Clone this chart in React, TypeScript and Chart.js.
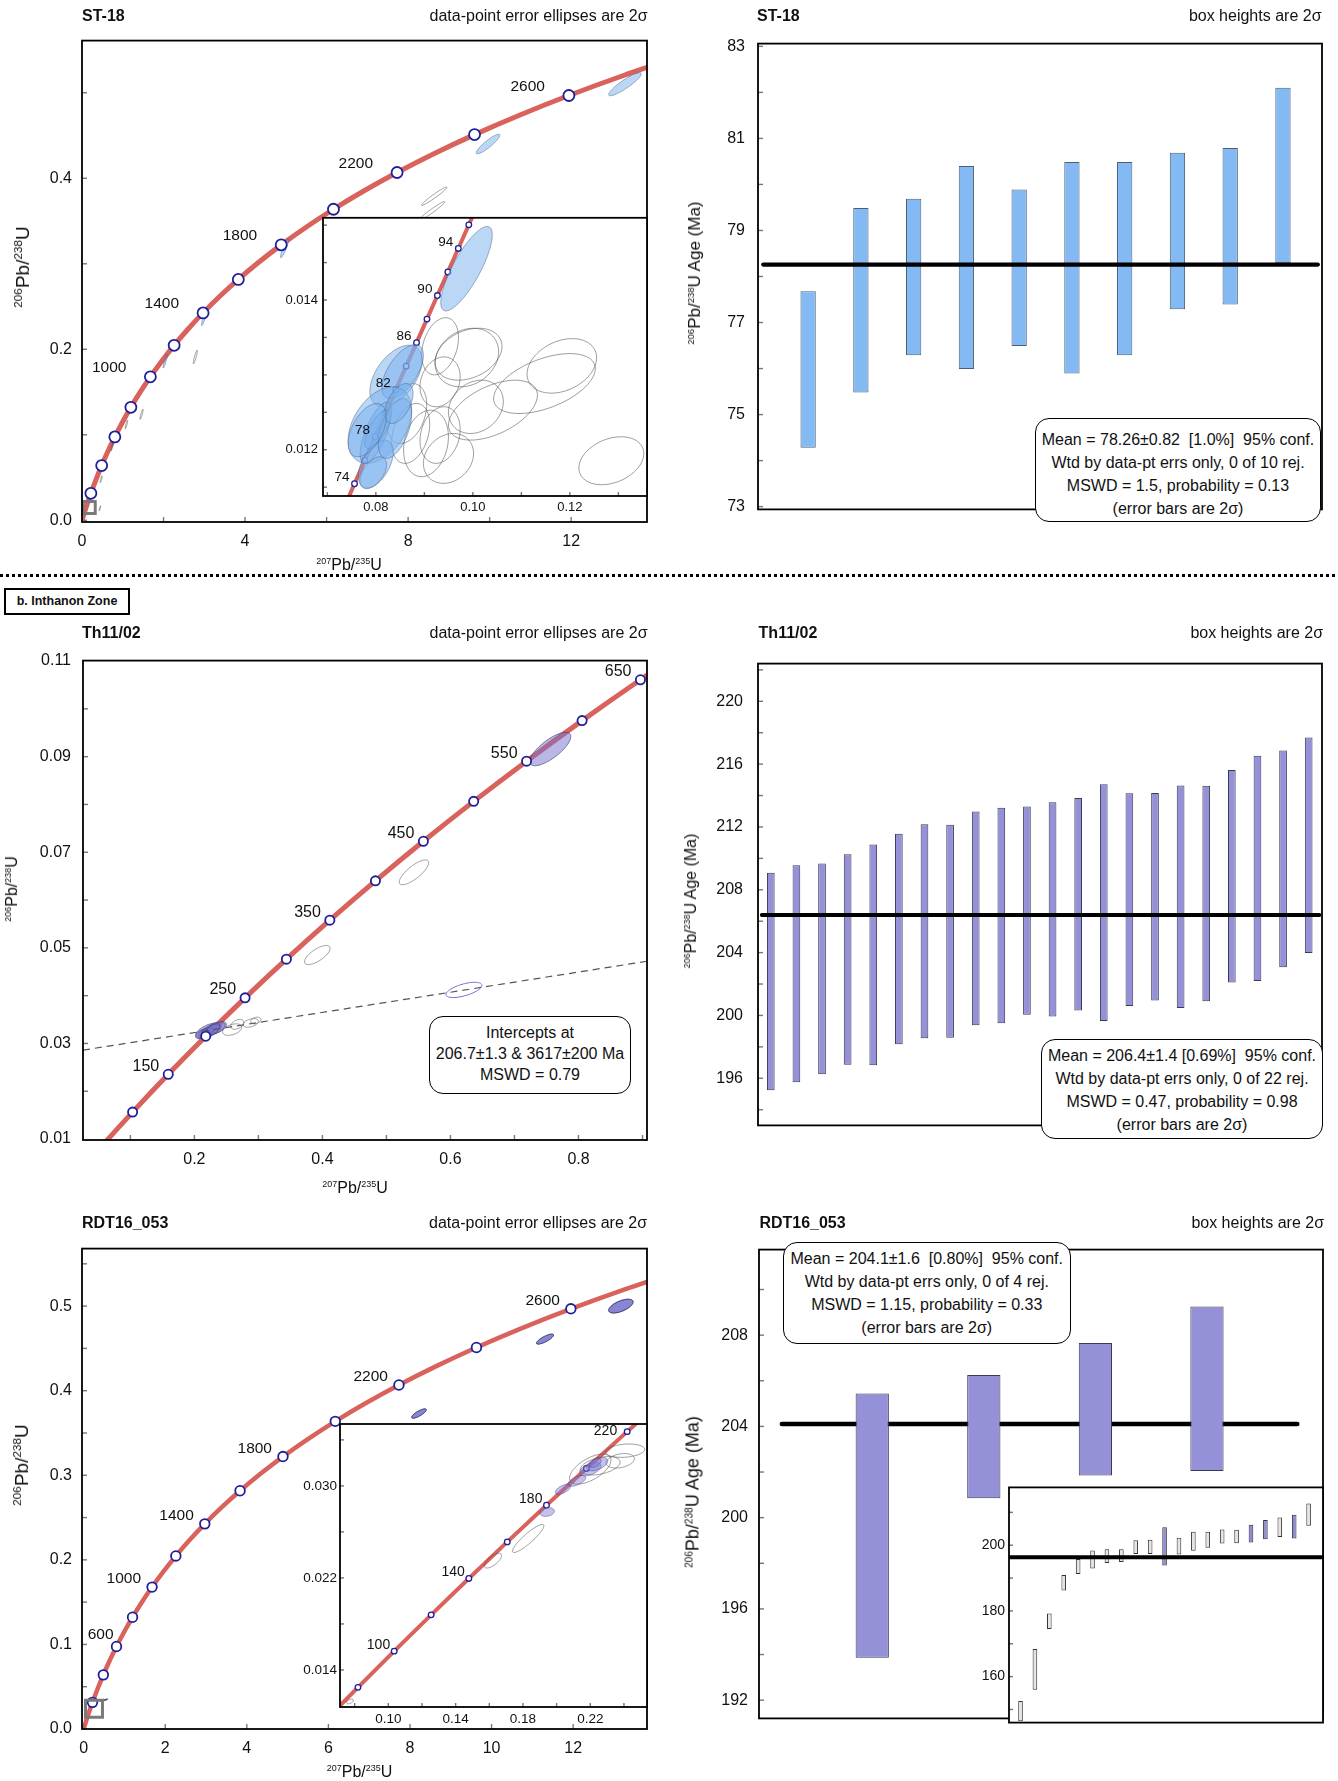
import React, { useEffect, useRef } from 'react';
import { Chart, registerables } from 'chart.js';

Chart.register(...registerables);
const FONT = "'Liberation Sans', Arial, Helvetica, sans-serif";
Chart.defaults.font.family = FONT;
Chart.defaults.color = '#111';

// ================= DATA =================
// Concordia reference points: age (Ma), 207Pb/235U, 206Pb/238U
const wideAges = [0, 100, 200, 300, 400, 500, 600, 700, 800, 900, 1000, 1100, 1200, 1300, 1400, 1500, 1600, 1700, 1800, 1900, 2000, 2100, 2200, 2300, 2400, 2500, 2600, 2700, 2800];
const wide207 = [0, 0.1035, 0.21771, 0.34374, 0.48281, 0.63628, 0.80563, 0.99251, 1.19873, 1.42629, 1.67741, 1.95452, 2.2603, 2.59774, 2.97009, 3.38099, 3.83442, 4.33477, 4.88691, 5.49618, 6.16853, 6.91046, 7.72916, 8.63262, 9.62957, 10.7297, 11.94372, 13.28336, 14.76165];
const wide206 = [0, 0.015633, 0.031511, 0.047637, 0.064016, 0.08065, 0.097544, 0.114702, 0.132129, 0.149828, 0.167804, 0.186061, 0.204603, 0.223435, 0.242562, 0.261987, 0.281716, 0.301754, 0.322105, 0.342774, 0.363766, 0.385086, 0.406741, 0.428732, 0.451069, 0.473754, 0.496794, 0.520194, 0.543959];
const wideMarkerAges = [200, 400, 600, 800, 1000, 1200, 1400, 1600, 1800, 2000, 2200, 2400, 2600, 2800];
const st18LabelAges = [1000, 1400, 1800, 2200, 2600];
const rdtLabelAges = [600, 1000, 1400, 1800, 2200, 2600];

const thAges = [0, 50, 100, 150, 200, 250, 300, 350, 400, 450, 500, 550, 600, 650, 700];
const th207 = [0, 0.050475, 0.1035, 0.159196, 0.21771, 0.279171, 0.34374, 0.411563, 0.48281, 0.557657, 0.63628, 0.71887, 0.80563, 0.896768, 0.99251];
const th206 = [0, 0.0077864, 0.015633, 0.023542, 0.031511, 0.039543, 0.047637, 0.055795, 0.064016, 0.072301, 0.08065, 0.089064, 0.097544, 0.10609, 0.114702];
const thMarkerAges = [100, 150, 200, 250, 300, 350, 400, 450, 500, 550, 600, 650];
const thLabelAges = [150, 250, 350, 450, 550, 650];

const st18InAges = [70, 72, 74, 76, 78, 80, 82, 84, 86, 88, 90, 92, 94, 96, 98];
const st18In207 = [0.0713713, 0.0734837, 0.0756003, 0.0777209, 0.0798459, 0.081975, 0.0841082, 0.0862457, 0.0883873, 0.0905333, 0.0926834, 0.0948377, 0.0969964, 0.0991592, 0.1013263];
const st18In206 = [0.0109179, 0.0112316, 0.0115454, 0.0118593, 0.0121733, 0.012487, 0.0128015, 0.0131158, 0.0134302, 0.0137446, 0.0140593, 0.0143738, 0.0146886, 0.0150035, 0.0153185];
const st18InMarkerAges = [74, 76, 78, 80, 82, 84, 86, 88, 90, 92, 94, 96];
const st18InLabelAges = [74, 78, 82, 86, 90, 94];

const rdtInAges = [60, 80, 100, 120, 140, 160, 180, 200, 220, 240];
const rdtIn207 = [0.0608718, 0.081975, 0.1035, 0.125449, 0.147837, 0.17067, 0.193957, 0.21771, 0.241931, 0.266636];
const rdtIn206 = [0.0093509, 0.012487, 0.015633, 0.018789, 0.021955, 0.025131, 0.028316, 0.031511, 0.034717, 0.037932];
const rdtInMarkerAges = [80, 100, 120, 140, 160, 180, 200, 220];
const rdtInLabelAges = [100, 140, 180, 220];

// Error ellipses: [207/235 centre, 206/238 centre, 2s x, 2s y, error correlation]
const st18MainAcc = [
  [13.32, 0.51, 0.4, 0.0135, 0.9],
  [9.96, 0.44, 0.29, 0.0115, 0.9],
  [4.97, 0.318, 0.1, 0.011, 0.9],
  [2.99, 0.2356, 0.06, 0.008, 0.9],
  [2.04, 0.186, 0.05, 0.008, 0.9],
];
const st18MainRej = [
  [8.64, 0.379, 0.31, 0.0107, 0.97],
  [8.59, 0.362, 0.31, 0.0107, 0.97],
  [2.78, 0.191, 0.05, 0.008, 0.9],
  [1.46, 0.124, 0.04, 0.006, 0.9],
  [1.09, 0.112, 0.03, 0.005, 0.9],
  [0.74, 0.086, 0.03, 0.005, 0.9],
  [0.47, 0.048, 0.025, 0.004, 0.9],
  [0.44, 0.014, 0.02, 0.003, 0.9],
];
const st18InAcc = [
  [0.09869, 0.014418, 0.00531, 0.000564, 0.8],
  [0.08414, 0.012987, 0.00538, 0.000409, 0.5],
  [0.08552, 0.013044, 0.00428, 0.00036, 0.6],
  [0.08083, 0.012329, 0.00655, 0.000511, 0.4],
  [0.08, 0.012227, 0.00324, 0.000409, 0.7],
  [0.08034, 0.012271, 0.00262, 0.000258, 0.7],
  [0.08, 0.011809, 0.00359, 0.00032, 0.5],
  [0.07945, 0.011693, 0.00276, 0.000213, 0.5],
  [0.08393, 0.012284, 0.00345, 0.0004, 0.5],
  [0.08476, 0.012618, 0.0029, 0.000267, 0.5],
  [0.07821, 0.012262, 0.00393, 0.000356, 0.5],
];
const st18InRej = [
  [0.09324, 0.013382, 0.00379, 0.000382, 0.3],
  [0.09876, 0.013231, 0.00655, 0.000391, 0.2],
  [0.0991, 0.013276, 0.0069, 0.000347, 0.3],
  [0.09324, 0.012907, 0.00414, 0.000333, 0.2],
  [0.11834, 0.01312, 0.00717, 0.000364, 0.3],
  [0.11476, 0.012884, 0.01048, 0.0004, 0.5],
  [0.10414, 0.012529, 0.00917, 0.0004, 0.5],
  [0.10062, 0.012573, 0.00566, 0.000356, 0.2],
  [0.09497, 0.011884, 0.00517, 0.000333, 0.2],
  [0.09034, 0.012084, 0.00462, 0.000444, 0.2],
  [0.08717, 0.012218, 0.00393, 0.0004, 0.3],
  [0.09324, 0.012196, 0.00414, 0.000378, 0.2],
  [0.12855, 0.011853, 0.00669, 0.00032, 0.3],
  [0.08634, 0.012484, 0.00414, 0.0004, 0.3],
];
const thAcc = [
  [0.756, 0.0916, 0.032, 0.0035, 0.75],
  [0.222, 0.0327, 0.02, 0.0016, 0.6],
  [0.23, 0.033, 0.018, 0.0014, 0.6],
  [0.218, 0.0322, 0.012, 0.0012, 0.5],
  [0.235, 0.0333, 0.015, 0.0013, 0.5],
  [0.226, 0.0326, 0.014, 0.0015, 0.7],
  [0.212, 0.032, 0.01, 0.001, 0.5],
];
const thRej = [
  [0.543, 0.0658, 0.023, 0.0026, 0.78],
  [0.392, 0.0485, 0.02, 0.002, 0.7],
  [0.267, 0.034, 0.0104, 0.00102, 0.4],
  [0.288, 0.0343, 0.012, 0.0009, 0.4],
  [0.259, 0.0329, 0.015, 0.0012, 0.4],
  [0.296, 0.0348, 0.008, 0.0007, 0.3],
];
const thOutlier = [[0.621, 0.0412, 0.028, 0.0016, 0.6]];
const thDiscX = [0.026, 0.907];
const thDiscY = [0.0286, 0.0472];
const rdtMainAcc = [
  [13.17, 0.5, 0.3, 0.0082, 0.6],
  [11.31, 0.461, 0.21, 0.006, 0.8],
  [8.22, 0.373, 0.18, 0.0056, 0.8],
  [0.5, 0.034, 0.09, 0.0015, 0.9],
];
const rdtInAcc = [
  [0.19435, 0.02773, 0.00434, 0.00038, 0.2],
  [0.2038, 0.02971, 0.0046, 0.00044, 0.6],
  [0.2121, 0.03044, 0.0052, 0.00047, 0.6],
  [0.22, 0.03146, 0.0064, 0.00058, 0.5],
  [0.224, 0.03189, 0.0064, 0.00058, 0.5],
  [0.223, 0.032, 0.0035, 0.0004, 0.5],
];
const rdtInRej = [
  [0.2407, 0.03306, 0.0116, 0.00058, 0.2],
  [0.2378, 0.03218, 0.0084, 0.00063, 0.3],
  [0.22, 0.03146, 0.0123, 0.0013, 0.6],
  [0.2259, 0.03175, 0.0118, 0.0008, 0.4],
  [0.1831, 0.02543, 0.0093, 0.00122, 0.9],
  [0.1622, 0.0235, 0.0051, 0.00064, 0.7],
  [0.0772, 0.01126, 0.002, 0.0002, 0.5],
];
// inset locator squares on the main concordia plots
const st18Locator = [0.177, 0.0149];
const rdtLocator = [0.254, 0.0239];

// Weighted-mean age boxes (Ma): low / high ends of 2s boxes
const st18Lo = [74.28, 75.48, 76.29, 75.99, 76.49, 75.89, 76.29, 77.29, 77.39, 78.29];
const st18Hi = [77.68, 79.49, 79.69, 80.4, 79.89, 80.49, 80.49, 80.69, 80.79, 82.1];
const st18Mean = 78.26;
const thLo = [195.24, 195.75, 196.25, 196.86, 196.83, 198.17, 198.55, 198.58, 199.38, 199.51, 200.04, 199.94, 200.32, 199.64, 200.6, 200.95, 200.47, 200.9, 202.09, 202.19, 203.07, 203.98];
const thHi = [209.09, 209.57, 209.67, 210.27, 210.88, 211.56, 212.17, 212.14, 212.98, 213.23, 213.31, 213.58, 213.84, 214.72, 214.14, 214.16, 214.64, 214.62, 215.63, 216.54, 216.87, 217.7];
const thMean = 206.4;
const rdtLo = [193.86, 200.85, 201.85, 202.05];
const rdtHi = [205.44, 206.25, 207.66, 209.26];
const rdtMean = 204.1;
const rdtAllLo = [146.4, 156.0, 174.5, 186.2, 191.2, 192.9, 194.6, 194.9, 197.3, 197.3, 193.86, 197.2, 198.3, 199.2, 200.5, 200.6, 200.85, 201.85, 202.5, 202.05, 205.9];
const rdtAllHi = [152.6, 168.4, 179.2, 190.9, 195.8, 198.4, 198.8, 198.8, 201.5, 201.7, 205.44, 202.3, 204.1, 204.1, 204.8, 204.7, 206.25, 207.66, 208.4, 209.26, 212.7];
const rdtAllUsed = [0, 0, 0, 0, 0, 0, 0, 0, 0, 0, 1, 0, 0, 0, 0, 0, 1, 1, 0, 1, 0];
const rdtAllMean = 196.3;

// Axis ticks and labels
const st18XTicks = [0, 2, 4, 6, 8, 10, 12];
const st18XLabels = ['0', '', '4', '', '8', '', '12'];
const st18YTicks = [0, 0.1, 0.2, 0.3, 0.4, 0.5];
const st18YLabels = ['0.0', '', '0.2', '', '0.4', ''];
const st18InXTicks = [0.07, 0.08, 0.09, 0.1, 0.11, 0.12, 0.13];
const st18InXLabels = ['', '0.08', '', '0.10', '', '0.12', ''];
const st18InYTicks = [0.0115, 0.012, 0.0125, 0.013, 0.0135, 0.014, 0.0145, 0.015];
const st18InYLabels = ['', '0.012', '', '', '', '0.014', '', ''];
const thXTicks = [0.1, 0.2, 0.3, 0.4, 0.5, 0.6, 0.7, 0.8, 0.9];
const thXLabels = ['', '0.2', '', '0.4', '', '0.6', '', '0.8', ''];
const thYTicks = [0.01, 0.02, 0.03, 0.04, 0.05, 0.06, 0.07, 0.08, 0.09, 0.1, 0.11];
const thYLabels = ['0.01', '', '0.03', '', '0.05', '', '0.07', '', '0.09', '', '0.11'];
const rdtXTicks = [0, 2, 4, 6, 8, 10, 12];
const rdtXLabels = ['0', '2', '4', '6', '8', '10', '12'];
const rdtYTicks = [0, 0.05, 0.1, 0.15, 0.2, 0.25, 0.3, 0.35, 0.4, 0.45, 0.5, 0.55];
const rdtYLabels = ['0.0', '', '0.1', '', '0.2', '', '0.3', '', '0.4', '', '0.5', ''];
const rdtInXTicks = [0.08, 0.1, 0.12, 0.14, 0.16, 0.18, 0.2, 0.22, 0.24];
const rdtInXLabels = ['', '0.10', '', '0.14', '', '0.18', '', '0.22', ''];
const rdtInYTicks = [0.014, 0.018, 0.022, 0.026, 0.03, 0.034];
const rdtInYLabels = ['0.014', '', '0.022', '', '0.030', ''];
const st18AgeTicks = [73, 74, 75, 76, 77, 78, 79, 80, 81, 82, 83];
const st18AgeLabels = ['73', '', '75', '', '77', '', '79', '', '81', '', '83'];
const thAgeTicks = [194, 196, 198, 200, 202, 204, 206, 208, 210, 212, 214, 216, 218, 220, 222];
const thAgeLabels = ['', '196', '', '200', '', '204', '', '208', '', '212', '', '216', '', '220', ''];
const rdtAgeTicks = [192, 194, 196, 198, 200, 202, 204, 206, 208, 210];
const rdtAgeLabels = ['192', '', '196', '', '200', '', '204', '', '208', ''];
const rdtAllTicks = [150, 160, 170, 180, 190, 200, 210];
const rdtAllLabels = ['', '160', '', '180', '', '200', ''];

// ================= STYLE =================
const RED = '#d9625c';
const NAVY = '#1f1f9c';
const BLUE_FILL = 'rgba(120,175,238,0.5)';
const BLUE_EDGE = 'rgba(70,95,130,0.6)';
const GREY_EDGE = 'rgba(80,80,80,0.7)';
const PURP_FILL = 'rgba(118,112,205,0.5)';
const PURP_EDGE = 'rgba(55,55,110,0.75)';
const TICK_FONT = 16;

type Box = { l: number; t: number; w: number; h: number };
type Mg = { l: number; t: number; r: number; b: number };

function extraPlugin(ex: any) {
  return {
    id: 'extra',
    beforeDraw(chart: any) {
      if (!ex.bg) return;
      const { ctx, chartArea: a } = chart;
      ctx.save();
      ctx.fillStyle = '#fff';
      ctx.fillRect(a.left, a.top, a.right - a.left, a.bottom - a.top);
      ctx.restore();
    },
    afterDatasetDraw(chart: any, args: any) {
      if (!ex.ellipses || args.index !== ex.ellAfter) return;
      const { ctx, chartArea: a } = chart;
      const xs = chart.scales.x, ys = chart.scales.y;
      ctx.save();
      ctx.beginPath();
      ctx.rect(a.left, a.top, a.right - a.left, a.bottom - a.top);
      ctx.clip();
      for (const g of ex.ellipses) {
        for (const e of g.items) {
          const [cx, cy, sx, sy, r] = e;
          const q = Math.sqrt(Math.max(0, 1 - r * r));
          ctx.beginPath();
          for (let k = 0; k <= 90; k++) {
            const th = (k / 90) * Math.PI * 2;
            const c = Math.cos(th), s = Math.sin(th);
            const px = xs.getPixelForValue(cx + sx * c);
            const py = ys.getPixelForValue(cy + sy * (r * c + q * s));
            if (k === 0) ctx.moveTo(px, py); else ctx.lineTo(px, py);
          }
          ctx.closePath();
          if (g.fill) { ctx.fillStyle = g.fill; ctx.fill(); }
          ctx.strokeStyle = g.stroke;
          ctx.lineWidth = g.lw;
          ctx.stroke();
        }
      }
      ctx.restore();
    },
    afterDatasetsDraw(chart: any) {
      const L = ex.labels;
      if (!L) return;
      const { ctx } = chart;
      const xs = chart.scales.x, ys = chart.scales.y;
      ctx.save();
      ctx.fillStyle = '#111';
      ctx.font = `${L.size}px ${FONT}`;
      ctx.textAlign = 'right';
      ctx.textBaseline = 'middle';
      for (const age of L.show) {
        const i = L.ages.indexOf(age);
        const px = xs.getPixelForValue(L.xs[i]);
        const py = ys.getPixelForValue(L.ys[i]);
        const off = (L.adj && L.adj[age]) || [L.dx, L.dy];
        ctx.fillText(String(age), px + off[0], py + off[1]);
      }
      ctx.restore();
    },
    afterDraw(chart: any) {
      const { ctx, chartArea: a } = chart;
      const xs = chart.scales.x, ys = chart.scales.y;
      ctx.save();
      ctx.strokeStyle = '#777';
      ctx.lineWidth = 1.4;
      const len = ex.tickLen;
      if (ex.xTicks) {
        for (const t of xs.ticks) {
          const px = xs.getPixelForValue(t.value);
          if (px < a.left + 1 || px > a.right - 1) continue;
          ctx.beginPath(); ctx.moveTo(px, a.bottom); ctx.lineTo(px, a.bottom - len); ctx.stroke();
        }
      }
      for (const t of ys.ticks) {
        const py = ys.getPixelForValue(t.value);
        if (py < a.top + 1 || py > a.bottom - 1) continue;
        ctx.beginPath(); ctx.moveTo(a.left, py); ctx.lineTo(a.left + len, py); ctx.stroke();
      }
      ctx.strokeStyle = '#000';
      ctx.lineWidth = ex.frame;
      ctx.strokeRect(a.left, a.top, a.right - a.left, a.bottom - a.top);
      ctx.restore();
    },
  };
}

function linAxis(min: number, max: number, ticks: number[], labels: string[], fitSize: number, horizontal: boolean, fontSize: number, pad: number, showLabels = true) {
  return {
    type: 'linear',
    min,
    max,
    bounds: 'data',
    offset: false,
    grid: { display: false, drawTicks: false },
    border: { display: false },
    afterBuildTicks: (s: any) => { s.ticks = ticks.map((v) => ({ value: v })); },
    afterFit: (s: any) => { if (horizontal) s.height = fitSize; else s.width = fitSize; },
    ticks: {
      display: showLabels,
      autoSkip: false,
      maxRotation: 0,
      minRotation: 0,
      padding: pad,
      color: '#111',
      font: { size: fontSize, family: FONT },
      callback: (_v: any, i: number) => labels[i] ?? '',
    },
  };
}

function baseOptions(m: Mg, x: any, y: any) {
  return {
    responsive: false,
    maintainAspectRatio: false,
    animation: false,
    devicePixelRatio: 1,
    events: [],
    layout: { padding: { left: 0, top: m.t, right: m.r, bottom: 0 } },
    plugins: { legend: { display: false }, tooltip: { enabled: false }, title: { display: false } },
    scales: { x, y },
  };
}

function concordiaConfig(o: any) {
  const curve = o.ages.map((_: number, i: number) => ({ x: o.c207[i], y: o.c206[i] }));
  const marks = o.marks.map((a: number) => {
    const i = o.ages.indexOf(a);
    return { x: o.c207[i], y: o.c206[i] };
  });
  const datasets: any[] = [
    { type: 'line', data: curve, borderColor: RED, borderWidth: o.curveW, pointRadius: 0, cubicInterpolationMode: 'monotone', fill: false, order: 3 },
    { type: 'scatter', data: marks, pointRadius: o.markR, pointBackgroundColor: '#fff', pointBorderColor: NAVY, pointBorderWidth: o.markBW, order: 2 },
    ...(o.extra || []),
  ];
  return {
    type: 'scatter',
    data: { datasets },
    options: baseOptions(
      o.m,
      linAxis(o.xr[0], o.xr[1], o.xT, o.xL, o.m.b, true, o.font, o.xPad),
      linAxis(o.yr[0], o.yr[1], o.yT, o.yL, o.m.l, false, o.font, o.yPad),
    ),
    plugins: [extraPlugin(o.ex)],
  };
}

function barConfig(o: any) {
  return {
    type: 'bar',
    data: {
      datasets: [
        {
          type: 'bar',
          data: o.lo.map((l: number, i: number) => ({ x: i + 1, y: [l, o.hi[i]] })),
          backgroundColor: o.fill,
          borderColor: o.stroke,
          borderWidth: 1,
          borderSkipped: false,
          barPercentage: o.barPct,
          categoryPercentage: 1,
          order: o.lineOnTop ? 1 : 0,
        },
        {
          type: 'line',
          data: [{ x: o.meanX[0], y: o.mean }, { x: o.meanX[1], y: o.mean }],
          borderColor: '#000',
          borderWidth: o.meanW,
          borderCapStyle: 'round',
          pointRadius: 0,
          order: o.lineOnTop ? 0 : 1,
        },
      ],
    },
    options: baseOptions(
      o.m,
      linAxis(o.xr[0], o.xr[1], [o.xr[0], o.xr[1]], [], o.m.b, true, 10, 0, false),
      linAxis(o.yr[0], o.yr[1], o.yT, o.yL, o.m.l, false, o.font, o.yPad),
    ),
    plugins: [extraPlugin({ tickLen: o.tickLen, frame: o.frame, xTicks: false, bg: !!o.bg })],
  };
}

function PlotCanvas({ box, m, make }: { box: Box; m: Mg; make: () => any }) {
  const ref = useRef<HTMLCanvasElement | null>(null);
  useEffect(() => {
    const c = ref.current;
    if (!c) return;
    const chart = new Chart(c, make());
    return () => chart.destroy();
  }, []);
  const W = box.w + m.l + m.r;
  const H = box.h + m.t + m.b;
  return (
    <canvas
      ref={ref}
      width={W}
      height={H}
      style={{ position: 'absolute', left: box.l - m.l, top: box.t - m.t, width: W, height: H }}
    />
  );
}

const Sup = ({ children, k = 0.56 }: any) => (
  <span style={{ fontSize: k + 'em', position: 'relative', top: '-0.62em' }}>{children}</span>
);

function Txt({ x, y, align = 'left', size = 16, bold = false, children }: any) {
  const lh = 20;
  const style: any = { position: 'absolute', top: y - lh / 2, lineHeight: lh + 'px', fontSize: size, fontWeight: bold ? 700 : 400, whiteSpace: 'pre' };
  if (align === 'left') style.left = x;
  else if (align === 'right') style.right = 1338 - x;
  else { style.left = x; style.transform = 'translateX(-50%)'; }
  return <div style={style}>{children}</div>;
}

function VTxt({ x, y, size = 16, children }: any) {
  return (
    <div style={{ position: 'absolute', left: x, top: y, transform: 'translate(-50%, -50%) rotate(-90deg)', whiteSpace: 'nowrap', fontSize: size, lineHeight: '20px' }}>
      {children}
    </div>
  );
}

function StatBox({ l, t, w, h, lines, lh = 23, padTop }: any) {
  return (
    <div style={{ position: 'absolute', left: l, top: t, width: w, height: h, boxSizing: 'border-box', border: '1.5px solid #000', borderRadius: 14, background: '#fff', textAlign: 'center', fontSize: 16, lineHeight: lh + 'px', paddingTop: padTop, whiteSpace: 'pre' }}>
      {lines.map((s: string, i: number) => <div key={i}>{s}</div>)}
    </div>
  );
}

const RatioX = () => <span><Sup>207</Sup>Pb/<Sup>235</Sup>U</span>;
const RatioY = ({ k = 0.56 }: any) => <span><Sup k={k}>206</Sup>Pb/<Sup k={k}>238</Sup>U</span>;
const AgeY = () => <span><Sup>206</Sup>Pb/<Sup>238</Sup>U Age (Ma)</span>;

// ================= LAYOUT (plot boxes) =================
const bTL: Box = { l: 82, t: 33, w: 565, h: 489 };
const bTLin: Box = { l: 323, t: 217, w: 324, h: 279 };
const bTR: Box = { l: 758, t: 33, w: 564, h: 489 };
const bML: Box = { l: 83, t: 651, w: 564, h: 489 };
const bMR: Box = { l: 758, t: 651, w: 564, h: 489 };
const bBL: Box = { l: 82, t: 1241, w: 565, h: 488 };
const bBLin: Box = { l: 340, t: 1424, w: 307, h: 283 };
const bBR: Box = { l: 759, t: 1241, w: 564, h: 488 };
const bBRin: Box = { l: 1009, t: 1487, w: 314, h: 242 };

const mMain: Mg = { l: 82, t: 12, r: 20, b: 40 };
const mInset: Mg = { l: 45, t: 12, r: 12, b: 24 };
const mBar: Mg = { l: 60, t: 12, r: 12, b: 10 };
const mBarIn: Mg = { l: 40, t: 12, r: 10, b: 6 };

export default function App() {
  return (
    <div style={{ position: 'absolute', left: 0, top: 0, width: 1338, height: 1781, background: '#fff', fontFamily: FONT, color: '#111', overflow: 'hidden' }}>
      {/* ST-18 concordia */}
      <PlotCanvas box={bTL} m={mMain} make={() => concordiaConfig({
        ages: wideAges, c207: wide207, c206: wide206, marks: wideMarkerAges,
        xr: [0, 13.86], yr: [-0.002, 0.561], xT: st18XTicks, xL: st18XLabels, yT: st18YTicks, yL: st18YLabels,
        curveW: 5, markR: 5.5, markBW: 1.8, font: TICK_FONT, xPad: 10, yPad: 10, m: mMain,
        extra: [{ type: 'scatter', data: [{ x: st18Locator[0], y: st18Locator[1] }], pointStyle: 'rect', pointRadius: 8.5, pointBackgroundColor: 'rgba(0,0,0,0)', pointBorderColor: '#7a7a7a', pointBorderWidth: 3, order: 0, clip: false }],
        ex: {
          ellipses: [
            { items: st18MainRej, stroke: GREY_EDGE, lw: 0.8 },
            { items: st18MainAcc, fill: BLUE_FILL, stroke: BLUE_EDGE, lw: 0.8 },
          ],
          ellAfter: 0,
          labels: { ages: wideAges, xs: wide207, ys: wide206, show: st18LabelAges, dx: -24, dy: -9, size: 15.5 },
          tickLen: 5, frame: 1.8, xTicks: true, bg: false,
        },
      })} />
      <PlotCanvas box={bTLin} m={mInset} make={() => concordiaConfig({
        ages: st18InAges, c207: st18In207, c206: st18In206, marks: st18InMarkerAges,
        xr: [0.0691, 0.1359], yr: [0.011382, 0.015098], xT: st18InXTicks, xL: st18InXLabels, yT: st18InYTicks, yL: st18InYLabels,
        curveW: 4, markR: 2.8, markBW: 1.3, font: 13, xPad: 4, yPad: 5, m: mInset,
        ex: {
          ellipses: [
            { items: st18InRej, stroke: GREY_EDGE, lw: 0.8 },
            { items: st18InAcc, fill: BLUE_FILL, stroke: BLUE_EDGE, lw: 0.8 },
          ],
          ellAfter: 1,
          labels: { ages: st18InAges, xs: st18In207, ys: st18In206, show: st18InLabelAges, dx: -5, dy: -6.5, size: 13.5 },
          tickLen: 4, frame: 1.8, xTicks: true, bg: true,
        },
      })} />

      {/* ST-18 weighted mean */}
      <PlotCanvas box={bTR} m={mBar} make={() => barConfig({
        lo: st18Lo, hi: st18Hi, mean: st18Mean, meanX: [0.15, 10.66], xr: [0.05, 10.74], yr: [72.94, 83.06],
        yT: st18AgeTicks, yL: st18AgeLabels, fill: '#84baf4', stroke: '#4d5f78', barPct: 0.29, meanW: 4.3, lineOnTop: true,
        font: TICK_FONT, yPad: 13, m: mBar, tickLen: 5, frame: 1.8,
      })} />

      {/* Th11/02 concordia */}
      <PlotCanvas box={bML} m={mMain} make={() => concordiaConfig({
        ages: thAges, c207: th207, c206: th206, marks: thMarkerAges,
        xr: [0.026, 0.907], yr: [0.0098, 0.1101], xT: thXTicks, xL: thXLabels, yT: thYTicks, yL: thYLabels,
        curveW: 5, markR: 4.6, markBW: 1.8, font: TICK_FONT, xPad: 10, yPad: 12, m: mMain,
        extra: [{ type: 'line', data: [{ x: thDiscX[0], y: thDiscY[0] }, { x: thDiscX[1], y: thDiscY[1] }], borderColor: '#555', borderWidth: 1.2, borderDash: [7, 5], pointRadius: 0, order: 1 }],
        ex: {
          ellipses: [
            { items: thRej, stroke: GREY_EDGE, lw: 0.8 },
            { items: thOutlier, stroke: '#6b6bd6', lw: 1 },
            { items: thAcc, fill: PURP_FILL, stroke: PURP_EDGE, lw: 0.8 },
          ],
          ellAfter: 0,
          labels: { ages: thAges, xs: th207, ys: th206, show: thLabelAges, dx: -9, dy: -8, size: 16 },
          tickLen: 5, frame: 1.8, xTicks: true, bg: false,
        },
      })} />

      {/* Th11/02 weighted mean */}
      <PlotCanvas box={bMR} m={mBar} make={() => barConfig({
        lo: thLo, hi: thHi, mean: thMean, meanX: [0.65, 22.42], xr: [0.5, 22.52], yr: [193.0, 222.4],
        yT: thAgeTicks, yL: thAgeLabels, fill: '#9591d9', stroke: '#3a3a55', barPct: 0.3, meanW: 4, lineOnTop: true,
        font: TICK_FONT, yPad: 15, m: mBar, tickLen: 5, frame: 1.8,
      })} />

      {/* RDT16_053 concordia */}
      <PlotCanvas box={bBL} m={mMain} make={() => concordiaConfig({
        ages: wideAges, c207: wide207, c206: wide206, marks: wideMarkerAges,
        xr: [-0.04, 13.81], yr: [0, 0.568], xT: rdtXTicks, xL: rdtXLabels, yT: rdtYTicks, yL: rdtYLabels,
        curveW: 4.5, markR: 4.8, markBW: 1.8, font: TICK_FONT, xPad: 10, yPad: 10, m: mMain,
        extra: [{ type: 'scatter', data: [{ x: rdtLocator[0], y: rdtLocator[1] }], pointStyle: 'rect', pointRadius: 12, pointBackgroundColor: 'rgba(0,0,0,0)', pointBorderColor: '#7a7a7a', pointBorderWidth: 3, order: 0, clip: false }],
        ex: {
          ellipses: [{ items: rdtMainAcc, fill: '#8985d6', stroke: '#2a2a55', lw: 1 }],
          ellAfter: 0,
          labels: { ages: wideAges, xs: wide207, ys: wide206, show: rdtLabelAges, dx: -11, dy: -8, size: 15.5, adj: { 600: [-3, -12] } },
          tickLen: 5, frame: 1.8, xTicks: true, bg: false,
        },
      })} />
      <PlotCanvas box={bBLin} m={mInset} make={() => concordiaConfig({
        ages: rdtInAges, c207: rdtIn207, c206: rdtIn206, marks: rdtInMarkerAges,
        xr: [0.0713, 0.2537], yr: [0.01078, 0.03538], xT: rdtInXTicks, xL: rdtInXLabels, yT: rdtInYTicks, yL: rdtInYLabels,
        curveW: 4, markR: 2.8, markBW: 1.3, font: 13.5, xPad: 4, yPad: 3, m: mInset,
        ex: {
          ellipses: [
            { items: rdtInRej, stroke: GREY_EDGE, lw: 0.8 },
            { items: rdtInAcc, fill: 'rgba(125,120,215,0.45)', stroke: 'rgba(70,70,130,0.6)', lw: 0.8 },
          ],
          ellAfter: 1,
          labels: { ages: rdtInAges, xs: rdtIn207, ys: rdtIn206, show: rdtInLabelAges, dx: -4, dy: -6, size: 14, adj: { 220: [-10, 0] } },
          tickLen: 4, frame: 1.8, xTicks: true, bg: true,
        },
      })} />

      {/* RDT16_053 weighted mean */}
      <PlotCanvas box={bBR} m={mBar} make={() => barConfig({
        lo: rdtLo, hi: rdtHi, mean: rdtMean, meanX: [0.19, 4.81], xr: [-0.015, 5.04], yr: [191.2, 211.75],
        yT: rdtAgeTicks, yL: rdtAgeLabels, fill: '#9591d9', stroke: '#3a3a55', barPct: 0.298, meanW: 4.5, lineOnTop: false,
        font: TICK_FONT, yPad: 11, m: mBar, tickLen: 5, frame: 1.8,
      })} />
      <PlotCanvas box={bBRin} m={mBarIn} make={() => barConfig({
        lo: rdtAllLo, hi: rdtAllHi, mean: rdtAllMean, meanX: [0.22, 21.98], xr: [0.2, 22.0], yr: [146.0, 217.6],
        yT: rdtAllTicks, yL: rdtAllLabels, fill: rdtAllUsed.map((u) => (u ? '#8f8ad6' : '#e4e4e4')), stroke: '#333', barPct: 0.32, meanW: 4, lineOnTop: true,
        font: 14, yPad: 4, m: mBarIn, tickLen: 4, frame: 1.8, bg: true,
      })} />

      {/* Titles */}
      <Txt x={82} y={15.5} bold>ST-18</Txt>
      <Txt x={647.5} y={15.5} align="right">data-point error ellipses are 2σ</Txt>
      <Txt x={757} y={15.5} bold>ST-18</Txt>
      <Txt x={1321.5} y={15.5} align="right">box heights are 2σ</Txt>
      <Txt x={82} y={633.4} bold>Th11/02</Txt>
      <Txt x={647.5} y={633.4} align="right">data-point error ellipses are 2σ</Txt>
      <Txt x={758.6} y={633.4} bold>Th11/02</Txt>
      <Txt x={1323} y={633.4} align="right">box heights are 2σ</Txt>
      <Txt x={82} y={1223} bold>RDT16_053</Txt>
      <Txt x={647} y={1223} align="right">data-point error ellipses are 2σ</Txt>
      <Txt x={759.4} y={1223} bold>RDT16_053</Txt>
      <Txt x={1324} y={1223} align="right">box heights are 2σ</Txt>

      {/* Axis titles */}
      <Txt x={349} y={565} align="center"><RatioX /></Txt>
      <Txt x={355} y={1188} align="center"><RatioX /></Txt>
      <Txt x={359.5} y={1772} align="center"><RatioX /></Txt>
      <VTxt x={23.5} y={267} size={19}><RatioY k={0.62} /></VTxt>
      <VTxt x={13} y={889} size={16}><RatioY /></VTxt>
      <VTxt x={22.5} y={1465} size={19}><RatioY k={0.62} /></VTxt>
      <VTxt x={695.5} y={273} size={17}><AgeY /></VTxt>
      <VTxt x={692} y={901} size={16}><AgeY /></VTxt>
      <VTxt x={693.5} y={1492} size={18}><AgeY /></VTxt>

      {/* Separator and section label */}
      <div style={{ position: 'absolute', left: 0, top: 574, width: 1338, height: 3, background: 'repeating-linear-gradient(90deg, #000 0 3px, transparent 3px 6px)' }} />
      <div style={{ position: 'absolute', left: 4, top: 588, width: 126, height: 27, boxSizing: 'border-box', border: '2.5px solid #000', fontWeight: 700, fontSize: 12.5, lineHeight: '22px', textAlign: 'center', whiteSpace: 'nowrap' }}>b. Inthanon Zone</div>

      {/* Statistic boxes */}
      <StatBox l={1035} t={418} w={286} h={104} padTop={9} lines={['Mean = 78.26±0.82  [1.0%]  95% conf.', 'Wtd by data-pt errs only, 0 of 10 rej.', 'MSWD = 1.5, probability = 0.13', '(error bars are 2σ)']} />
      <StatBox l={1041} t={1039} w={282} h={100} padTop={4} lines={['Mean = 206.4±1.4 [0.69%]  95% conf.', 'Wtd by data-pt errs only, 0 of 22 rej.', 'MSWD = 0.47, probability = 0.98', '(error bars are 2σ)']} />
      <StatBox l={783} t={1241.5} w={287.5} h={102} padTop={4.5} lines={['Mean = 204.1±1.6  [0.80%]  95% conf.', 'Wtd by data-pt errs only, 0 of 4 rej.', 'MSWD = 1.15, probability = 0.33', '(error bars are 2σ)']} />
      <StatBox l={429} t={1015.6} w={202} h={78} lh={21} padTop={5.4} lines={['Intercepts at', '206.7±1.3 & 3617±200 Ma', 'MSWD = 0.79']} />
    </div>
  );
}
